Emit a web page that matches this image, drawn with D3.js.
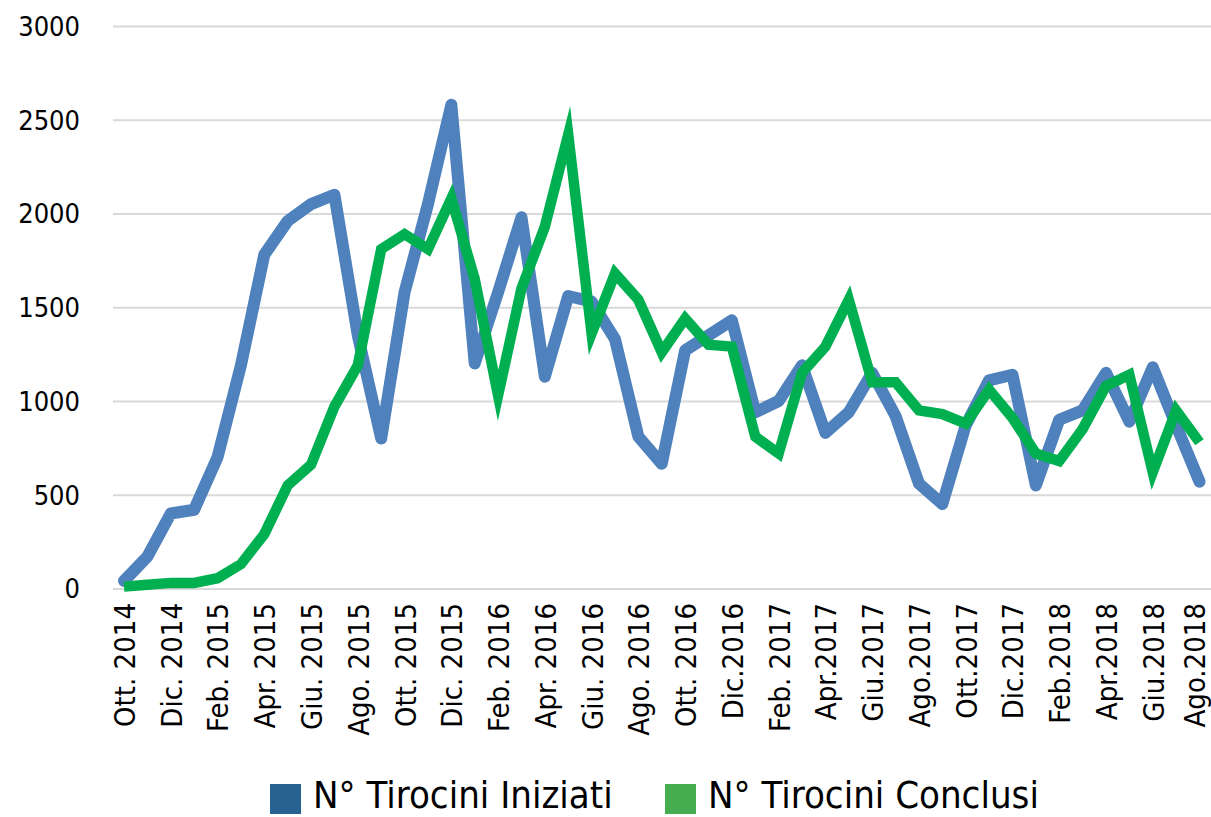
<!DOCTYPE html>
<html>
<head>
<meta charset="utf-8">
<script src="https://d3js.org/d3.v7.min.js"></script>
<style>
body { margin:0; background:#fff; }
text { font-family:"DejaVu Sans Condensed","DejaVu Sans",sans-serif; fill:#000; }
</style>
</head>
<body>
<div id="chart"></div>
<script>
// mesi (un'etichetta ogni due mesi sull'asse)
const mesi = ["Ott. 2014","Nov. 2014","Dic. 2014","Gen. 2015","Feb. 2015","Mar. 2015","Apr. 2015","Mag. 2015",
  "Giu. 2015","Lug. 2015","Ago. 2015","Set. 2015","Ott. 2015","Nov. 2015","Dic. 2015","Gen. 2016",
  "Feb. 2016","Mar. 2016","Apr. 2016","Mag. 2016","Giu. 2016","Lug. 2016","Ago. 2016","Set. 2016",
  "Ott. 2016","Nov. 2016","Dic.2016","Gen. 2017","Feb. 2017","Mar.2017","Apr.2017","Mag.2017",
  "Giu.2017","Lug.2017","Ago.2017","Set.2017","Ott.2017","Nov.2017","Dic.2017","Gen.2018",
  "Feb.2018","Mar.2018","Apr.2018","Mag.2018","Giu.2018","Lug.2018","Ago.2018"];

const iniziati = [40,170,400,420,700,1190,1780,1960,2050,2100,1350,800,1580,2050,2580,1200,
  1580,1980,1130,1560,1530,1330,810,665,1270,1350,1430,940,1000,1190,830,940,
  1150,920,560,450,870,1110,1140,550,900,950,1150,890,1180,870,570];

const conclusi = [10,20,30,30,55,130,290,550,660,970,1190,1810,1890,1810,2080,1650,
  1030,1600,1930,2420,1360,1680,1540,1260,1440,1300,1290,810,720,1150,1290,1540,
  1100,1100,950,930,880,1060,910,720,680,850,1080,1140,620,950,780];

const yTicks = [0,500,1000,1500,2000,2500,3000];

const W = 1211, H = 817;
const svg = d3.select("#chart").append("svg")
    .attr("width", W).attr("height", H);

const x = d3.scalePoint().domain(mesi).range([124, 1199.5]);
const y = d3.scaleLinear().domain([0, 3000]).range([588.5, 26]);

// griglia + etichette asse y
svg.append("g")
    .attr("transform", "translate(113,0)")
    .call(d3.axisLeft(y).tickValues(yTicks).tickFormat(d3.format("d")).tickSize(-(W - 113)).tickPadding(33))
    .call(g => g.select(".domain").remove())
    .call(g => g.selectAll("line").attr("stroke", "#d9d9d9").attr("stroke-width", 2))
    .call(g => g.selectAll("text").style("font-size", "27px").attr("dy", "0.35em"));

// asse x
const assex = svg.append("g")
    .attr("transform", "translate(0,600)")
    .call(d3.axisBottom(x).tickValues(mesi.filter((d, i) => i % 2 == 0)).tickSize(0).tickPadding(0))
    .call(g => g.select(".domain").remove())
    .call(g => g.selectAll("text")
        .style("font-size", "29px")
        .attr("text-anchor", "end")
        .attr("transform", "rotate(-90)")
        .attr("x", -3).attr("y", 0).attr("dy", "0.36em"));
// l'ultima etichetta sta sul bordo destro
assex.selectAll(".tick:last-of-type text").attr("dy", "0.17em");

const line = d3.line().x((d, i) => x(mesi[i])).y(d => y(d));

svg.append("path").datum(iniziati)
    .attr("d", line)
    .attr("fill", "none")
    .attr("stroke", "#4f81bd")
    .attr("stroke-width", 12)
    .attr("stroke-linejoin", "round")
    .attr("stroke-linecap", "round");

svg.append("path").datum(conclusi)
    .attr("d", line)
    .attr("fill", "none")
    .attr("stroke", "#00b050")
    .attr("stroke-width", 10.5)
    .attr("stroke-linejoin", "miter")
    .attr("stroke-miterlimit", 10);

// legenda
const legenda = [["N° Tirocini Iniziati", "#276191", 270], ["N° Tirocini Conclusi", "#46ae50", 665]];
const leg = svg.append("g");
legenda.forEach(l => {
  leg.append("rect").attr("x", l[2]).attr("y", 784).attr("width", 31).attr("height", 30).attr("fill", l[1]);
  leg.append("text").attr("x", l[2] + 43).attr("y", 808).style("font-size", "38px").text(l[0]);
});
</script>
</body>
</html>
